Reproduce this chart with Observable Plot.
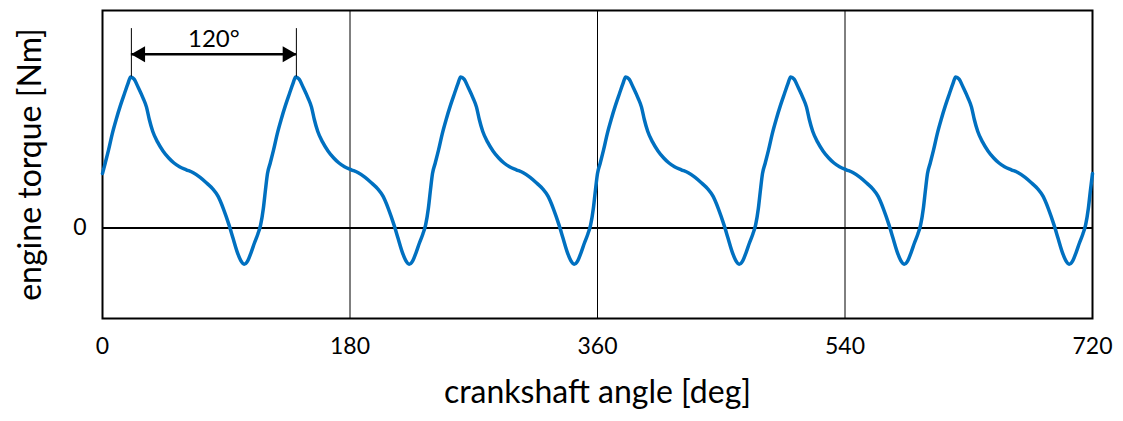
<!DOCTYPE html>
<html>
<head>
<meta charset="utf-8">
<script src="https://cdn.jsdelivr.net/npm/d3@7"></script>
<script src="https://cdn.jsdelivr.net/npm/@observablehq/plot@0.6"></script>
<style>
  html, body { margin: 0; padding: 0; background: #fff; }
</style>
</head>
<body>
<div id="chart"></div>
<script>
// One firing pulse of a cylinder over 120° of crank rotation (torque in Nm)
const pulseAngle = [0, 2, 4.5, 7, 10, 13, 16, 18.5, 20.5, 23, 26, 29.5, 32, 34, 36.5, 40, 44, 48, 52, 56, 61, 66, 71, 76, 80, 84, 88, 92, 95, 98, 100.5, 103, 105.5, 108, 110.5, 113, 115, 117, 118.5, 120];
const pulseTorque = [36, 43, 52, 62, 72, 81, 89, 95.5, 100, 98.5, 93, 86, 80, 72, 64, 57, 51, 46.5, 43, 40.5, 38.5, 36.5, 33.5, 29.5, 26, 21, 12.5, 2, -7, -16, -21.5, -24, -22, -16.5, -10, -4, 2, 13, 25, 36];

// Firing angles of the six cylinders over one 720° engine cycle
const firingAngles = [0, 120, 240, 360, 480, 600];

// Axis ticks
const angleTicks = [0, 180, 360, 540, 720];
const torqueTicks = [0];
const gridAngles = [180, 360, 540];

// Firing interval annotation (between two torque peaks)
const intervalStart = 21;
const intervalEnd = 141;
const intervalLabel = "120°";
const peakTorque = 100;

// Full-cycle torque table built from the pulse and the firing angles
const torque = [];
firingAngles.forEach((start, k) => {
  pulseAngle.forEach((a, i) => {
    if (i === pulseAngle.length - 1 && k < firingAngles.length - 1) return;
    torque.push({angle: start + a, value: pulseTorque[i]});
  });
});

const font = "Lato, 'Open Sans', sans-serif";

const chart = Plot.plot({
  width: 1123,
  height: 421,
  marginLeft: 102,
  marginRight: 31,
  marginTop: 10,
  marginBottom: 103,
  style: {fontFamily: font, fontSize: "24px", background: "#fff", color: "#000"},
  x: {domain: [0, 720]},
  y: {domain: [-60, 144]},
  marks: [
    Plot.ruleX(gridAngles, {stroke: "#000", strokeWidth: 1}),
    Plot.ruleY([0], {stroke: "#000", strokeWidth: 2}),
    Plot.frame({stroke: "#000", strokeWidth: 2}),
    Plot.axisX({ticks: angleTicks, tickSize: 0, tickPadding: 19, fontSize: 23, label: null}),
    Plot.axisY({ticks: torqueTicks, tickSize: 0, tickPadding: 16, fontSize: 23, label: null}),
    Plot.line(torque, {x: "angle", y: "value", stroke: "#0070C0", strokeWidth: 3.5, curve: "monotone-x"}),
    // firing interval dimension
    Plot.ruleX([intervalStart, intervalEnd], {y1: peakTorque, y2: 132, stroke: "#000", strokeWidth: 1}),
    Plot.ruleY([115], {x1: intervalStart, x2: intervalEnd, stroke: "#000", strokeWidth: 2.5}),
    Plot.dot([intervalStart], {x: d => d, y: () => 115, symbol: "triangle", r: 6, fill: "#000", rotate: -90, dx: 9}),
    Plot.dot([intervalEnd], {x: d => d, y: () => 115, symbol: "triangle", r: 6, fill: "#000", rotate: 90, dx: -9}),
    Plot.text([intervalLabel], {x: (intervalStart + intervalEnd) / 2, y: 125, text: d => d, fontSize: 24, fill: "#000"}),
    // axis titles
    Plot.text(["crankshaft angle [deg]"], {frameAnchor: "bottom", dy: 84, text: d => d, fontSize: 32, fill: "#000"}),
    Plot.text(["engine torque [Nm]"], {frameAnchor: "left", dx: -72, rotate: -90, textAnchor: "middle", text: d => d, fontSize: 32, fill: "#000"})
  ]
});

document.getElementById("chart").appendChild(chart);
</script>
</body>
</html>
